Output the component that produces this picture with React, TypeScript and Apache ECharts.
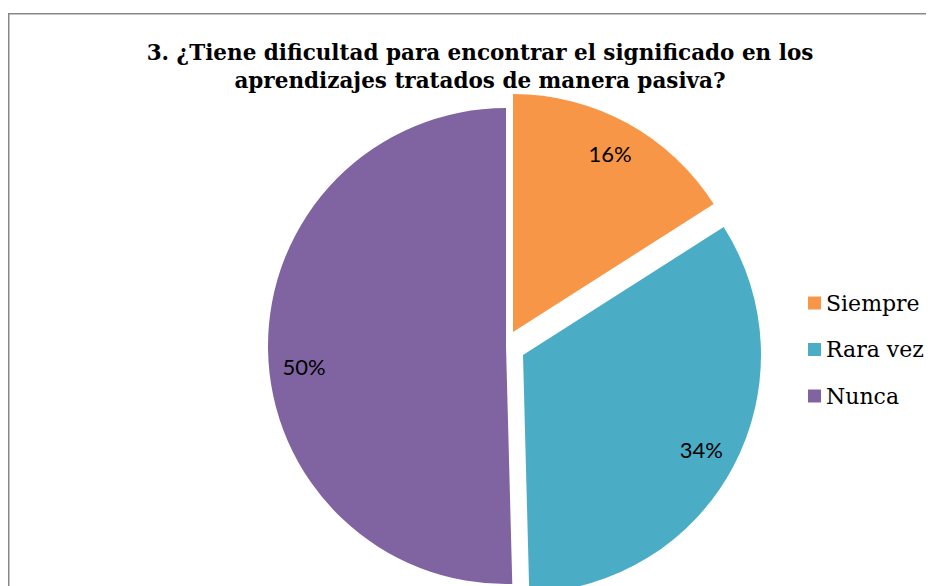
import React, { useEffect, useRef } from "react";
import * as echarts from "echarts";

const titleLines = [
  "3. ¿Tiene dificultad para encontrar el significado en los",
  "aprendizajes tratados de manera pasiva?",
];
const categories = ["Siempre", "Rara vez", "Nunca"];
const counts = [19, 40, 60];
const colors = ["#F79646", "#4BACC6", "#8064A2"];

// per-slice drawing settings (exploded pie)
const sliceCenters: [number, number][] = [
  [505, 324],
  [515, 347],
  [498, 338],
];
const labelOffsets: [number, number][] = [
  [0, -1],
  [0, 0],
  [0, 18],
];
const R = 238;

export default function App() {
  const ref = useRef<HTMLDivElement>(null);
  useEffect(() => {
    if (!ref.current) return;
    const chart = echarts.init(ref.current, null, { renderer: "svg" });
    const series: any[] = [];
    categories.forEach((_, i) => {
      series.push({
        type: "pie",
        silent: true,
        center: sliceCenters[i],
        radius: [0, R],
        startAngle: 90,
        clockwise: true,
        label: { show: false },
        labelLine: { show: false },
        data: categories.map((name, j) => ({
          name,
          value: counts[j],
          itemStyle: { color: j === i ? colors[j] : "rgba(0,0,0,0)" },
        })),
      });
    });
    categories.forEach((_, i) => {
      series.push({
        type: "pie",
        silent: true,
        center: sliceCenters[i],
        radius: [160, R],
        startAngle: 90,
        clockwise: true,
        labelLine: { show: false },
        data: categories.map((name, j) => ({
          name,
          value: counts[j],
          itemStyle: { color: "rgba(0,0,0,0)" },
          label: {
            show: j === i,
            position: "inside",
            offset: labelOffsets[j],
            formatter: (p: any) => Math.round(p.percent) + "%",
            color: "#000",
            fontFamily: "Lato",
            fontSize: 22,
          },
        })),
      });
    });
    chart.setOption({
      animation: false,
      backgroundColor: "#fff",
      title: {
        text: titleLines.join("\n"),
        left: 467,
        top: 25,
        textAlign: "center",
        textStyle: {
          fontFamily: "DejaVu Serif",
          fontWeight: "bold",
          fontSize: 21.5,
          lineHeight: 28,
          color: "#000",
        },
      },
      legend: {
        orient: "vertical",
        left: 795,
        top: 278,
        icon: "rect",
        itemWidth: 13,
        itemHeight: 13,
        itemGap: 22.5,
        selectedMode: false,
        data: categories.map((name, i) => ({ name, itemStyle: { color: colors[i] } })),
        textStyle: {
          fontFamily: "DejaVu Serif",
          fontSize: 22,
          lineHeight: 24,
          color: "#000",
        },
      },
      graphic: [
        {
          type: "rect",
          shape: { x: 0.75, y: 5.75, width: 2000, height: 2000 },
          style: { fill: "none", stroke: "#888", lineWidth: 1.5 },
          silent: true,
          z: 100,
        },
      ],
      series,
    });
    return () => chart.dispose();
  }, []);
  return <div ref={ref} style={{ width: 926, height: 578 }} />;
}
